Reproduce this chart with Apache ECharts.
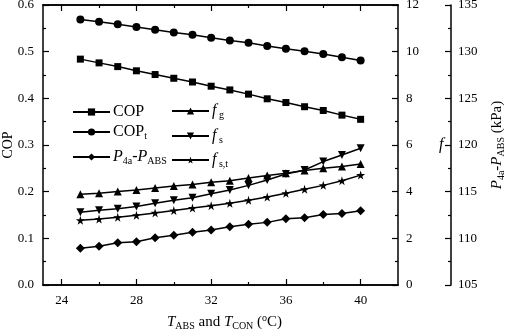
<!DOCTYPE html>
<html>
<head>
<meta charset="utf-8">
<script src="https://cdn.jsdelivr.net/npm/echarts@6/dist/echarts.min.js"></script>
<style>
  html, body { margin: 0; padding: 0; background: #fff; }
  #chart { width: 505px; height: 336px; }
</style>
</head>
<body>
<div id="chart"></div>
<script>
// temperature points (°C)
const temps = [25, 26, 27, 28, 29, 30, 31, 32, 33, 34, 35, 36, 37, 38, 39, 40];
const cop = [0.484, 0.476, 0.468, 0.459, 0.451, 0.443, 0.435, 0.426, 0.418, 0.409, 0.399, 0.391, 0.382, 0.374, 0.364, 0.355];
const copT = [0.569, 0.564, 0.559, 0.553, 0.547, 0.541, 0.536, 0.530, 0.524, 0.519, 0.512, 0.506, 0.501, 0.495, 0.488, 0.481];
const dp = [108.93, 109.16, 109.52, 109.64, 110.07, 110.34, 110.64, 110.9, 111.25, 111.5, 111.71, 112.1, 112.2, 112.55, 112.65, 112.96];
const fg = [3.89, 3.93, 4.01, 4.07, 4.16, 4.24, 4.31, 4.40, 4.47, 4.59, 4.69, 4.79, 4.91, 5.00, 5.08, 5.19];
const fs = [3.12, 3.20, 3.27, 3.36, 3.50, 3.63, 3.74, 3.91, 4.07, 4.27, 4.50, 4.76, 4.93, 5.29, 5.57, 5.86];
const fst = [2.77, 2.83, 2.90, 2.99, 3.09, 3.19, 3.30, 3.40, 3.50, 3.63, 3.77, 3.93, 4.10, 4.27, 4.47, 4.71];
const xMajor = [24, 28, 32, 36, 40];
const xMinor = [26, 30, 34, 38];

const FONT = '"Liberation Serif", "Times New Roman", serif';
const star = 'path://M50,0 L61,35 L98,35 L68,57 L79,91 L50,70 L21,91 L32,57 L2,35 L39,35 Z';
const diamond = 'path://M0,-10 L10,0 L0,10 L-10,0 Z';

const chart = echarts.init(document.getElementById('chart'));

const rich = {
  n: { fontFamily: FONT, fontSize: 16, lineHeight: 18, color: '#000' },
  i: { fontFamily: FONT, fontSize: 16, lineHeight: 18, fontStyle: 'italic', color: '#000' },
  s: { fontFamily: FONT, fontSize: 10, lineHeight: 10, padding: [8, 0, 0, 0], color: '#000' }
};
const axisRich = {
  n: { fontFamily: FONT, fontSize: 15, lineHeight: 18, color: '#000' },
  i: { fontFamily: FONT, fontSize: 15, lineHeight: 18, fontStyle: 'italic', color: '#000' },
  s: { fontFamily: FONT, fontSize: 10, lineHeight: 10, padding: [8, 0, 0, 0], color: '#000' },
  u: { fontFamily: FONT, fontSize: 10, lineHeight: 10, padding: [0, 0, 8, 0], color: '#000' }
};

const labels = {
  COP: '{n|COP}',
  COPt: '{n|COP}{s|t}',
  P: '{i|P}{s|4a}{n|-}{i|P}{s|ABS}',
  fg: '{i|f}{s| g}',
  fs: '{i|f}{s| s}',
  fst: '{i|f}{s| s,t}'
};

function legendAt(name, left, center) {
  return {
    data: [name],
    left: left,
    top: center - 9,
    padding: 0,
    itemWidth: 37,
    itemHeight: 9,
    itemGap: 0,
    selectedMode: false,
    formatter: n => labels[n],
    textStyle: { rich: rich, padding: [0, 0, 0, -2] }
  };
}

const axisLine = { show: true, lineStyle: { color: '#000', width: 1.5 } };
const tickLabel = { color: '#000', fontFamily: FONT, fontSize: 13 };

function xAxisDef(pos, values, len, withLabels) {
  return {
    type: 'value',
    position: pos,
    min: 23,
    max: 42,
    axisLine: axisLine,
    axisTick: { show: true, inside: true, length: len, customValues: values, lineStyle: { color: '#000', width: 1.2 } },
    axisLabel: withLabels
      ? Object.assign({ show: true, margin: 9, customValues: values }, tickLabel)
      : { show: false },
    splitLine: { show: false }
  };
}

function yTicks() {
  return {
    axisTick: { show: true, inside: true, length: 6, lineStyle: { color: '#000', width: 1.2 } },
    minorTick: { show: true, splitNumber: 2, length: 3, lineStyle: { color: '#000', width: 1.2 } },
    splitLine: { show: false },
    minorSplitLine: { show: false }
  };
}

function mk(name, data, yIdx, symbol, size, rotate) {
  return {
    name: name,
    type: 'line',
    xAxisIndex: 0,
    yAxisIndex: yIdx,
    data: temps.map((t, i) => [t, data[i]]),
    symbol: symbol,
    symbolSize: size,
    symbolRotate: rotate || 0,
    showAllSymbol: true,
    animation: false,
    lineStyle: { color: '#000', width: 1.5 },
    itemStyle: { color: '#000', borderWidth: 0 }
  };
}

const xMain = xAxisDef('bottom', xMajor, 6, true);
xMain.name = '{i|T}{s|ABS}{n| and }{i|T}{s|CON}{n| (}{u|o}{n|C)}';
xMain.nameLocation = 'middle';
xMain.nameGap = 28;
xMain.nameTextStyle = { rich: axisRich, padding: [0, 0, 0, 8] };

const option = {
  animation: false,
  backgroundColor: '#fff',
  grid: { left: 43, right: 107, top: 5, bottom: 51, containLabel: false, outerBoundsMode: 'none' },
  legend: [
    legendAt('COP', 72, 113),
    legendAt('COPt', 72, 132),
    legendAt('P', 72, 157),
    legendAt('fg', 171, 111),
    legendAt('fs', 171, 136),
    legendAt('fst', 171, 160)
  ],
  xAxis: [
    xMain,
    xAxisDef('bottom', xMinor, 3, false),
    xAxisDef('top', xMajor, 6, false),
    xAxisDef('top', xMinor, 3, false)
  ],
  yAxis: [
    Object.assign({
      type: 'value',
      position: 'left',
      min: 0,
      max: 0.6,
      interval: 0.1,
      name: 'COP',
      nameLocation: 'middle',
      nameGap: 28,
      nameMoveOverlap: false,
      nameTextStyle: { color: '#000', fontFamily: FONT, fontSize: 14 },
      axisLine: axisLine,
      axisLabel: Object.assign({ margin: 9, formatter: v => v.toFixed(1) }, tickLabel)
    }, yTicks()),
    Object.assign({
      type: 'value',
      position: 'right',
      min: 0,
      max: 12,
      interval: 2,
      name: 'f',
      nameLocation: 'middle',
      nameRotate: 0,
      nameGap: 41,
      nameTextStyle: { color: '#000', fontFamily: FONT, fontSize: 16, fontStyle: 'italic', align: 'left' },
      axisLine: axisLine,
      axisLabel: Object.assign({ margin: 8 }, tickLabel)
    }, yTicks()),
    Object.assign({
      type: 'value',
      position: 'right',
      offset: 53,
      min: 105,
      max: 135,
      interval: 5,
      name: '{i|P}{s|4a}{n|-}{i|P}{s|ABS}{n| (kPa)}',
      nameLocation: 'middle',
      nameRotate: 90,
      nameGap: 37,
      nameTextStyle: { rich: axisRich },
      axisLine: axisLine,
      axisLabel: Object.assign({ margin: 7 }, tickLabel)
    }, yTicks())
  ],
  series: [
    mk('COP', cop, 0, 'rect', 7),
    mk('COPt', copT, 0, 'circle', 8),
    mk('P', dp, 2, diamond, 9),
    mk('fg', fg, 1, 'triangle', 8),
    mk('fs', fs, 1, 'triangle', 8, 180),
    mk('fst', fst, 1, star, 9)
  ]
};

chart.setOption(option);
</script>
</body>
</html>
